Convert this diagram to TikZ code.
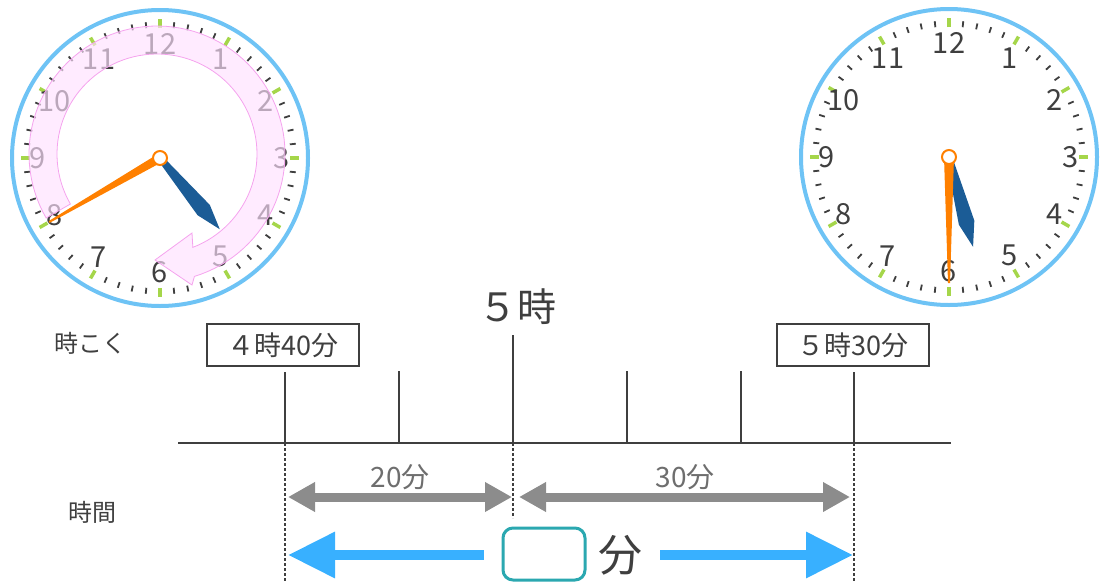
\documentclass[tikz,border=0pt]{standalone}
\usepackage{fontspec}
\setmainfont{Noto Sans CJK JP}
\usetikzlibrary{arrows.meta,calc,positioning}

\definecolor{ringblue}{HTML}{6EC3F5}
\definecolor{tickgreen}{HTML}{A5D64A}
\definecolor{ink}{HTML}{3F3F3F}
\definecolor{hourblue}{HTML}{1B5C96}
\definecolor{handorange}{HTML}{FF8000}
\definecolor{bandpink}{HTML}{FFE0FF}
\definecolor{bandedge}{HTML}{F5A3EE}
\definecolor{dimgray}{HTML}{8C8C8C}
\definecolor{labelgray}{HTML}{6E6E6E}
\definecolor{arrowblue}{HTML}{38B0FF}
\definecolor{answerteal}{HTML}{2BA8B0}

\begin{document}
\begin{tikzpicture}[
    x=1pt, y=-1pt,
    ring/.style={draw=ringblue, line width=4pt},
    hourtick/.style={draw=tickgreen, line width=3.5pt},
    mintick/.style={draw=ink, line width=1.8pt},
    clocknum/.style={text=ink, inner sep=0pt, font=\fontsize{29}{29}\selectfont},
    pinkband/.style={fill=bandpink, fill opacity=0.65, draw=bandedge, line width=0.8pt},
    hourhand/.style={fill=hourblue},
    minhand/.style={fill=handorange},
    pivot/.style={circle, minimum size=14pt, inner sep=0pt, draw=handorange, line width=2pt, fill=white},
    axis/.style={draw=ink, line width=2.8pt},
    guide/.style={draw=ink, line width=2.5pt, dash pattern=on 2.5pt off 2.5pt},
    timebox/.style={rectangle, draw=ink, line width=2pt, minimum width=152pt, minimum height=42pt, text=ink, font=\fontsize{27}{27}\selectfont},
    hourlabel/.style={text=ink, font=\fontsize{39}{39}\selectfont},
    rowlabel/.style={text=ink, font=\fontsize{24}{24}\selectfont},
    dimlabel/.style={text=labelgray, font=\fontsize{28}{28}\selectfont},
    dimarrow/.style={draw=dimgray, line width=9pt, {Triangle[length=27pt,width=28pt]}-{Triangle[length=27pt,width=28pt]}},
    bluearrow/.style={draw=arrowblue, line width=9.5pt, -{Triangle[length=47pt,width=44pt]}},
    answerbox/.style={rectangle, rounded corners=10pt, draw=answerteal, line width=3pt, minimum width=82pt, minimum height=52pt},
    bigfun/.style={text=ink, inner sep=0pt, font=\fontsize{44}{44}\selectfont}
]
\useasboundingbox (0,0) rectangle (1100,581);

% Clock faces
\coordinate (lc) at (160,158);
\coordinate (rc) at (949,157);
\foreach \c in {lc,rc} {
  \draw[ring] (\c) circle[radius=148pt];
  \foreach \m in {0,...,59} {
    \pgfmathtruncatemacro\five{mod(\m,5)}
    \ifnum\five=0
      \draw[hourtick] ($(\c)+(-90+6*\m:130)$) -- ($(\c)+(-90+6*\m:139)$);
    \else
      \draw[mintick] ($(\c)+(-90+6*\m:130.5)$) -- ($(\c)+(-90+6*\m:136.5)$);
    \fi
  }
  \foreach \h in {1,...,12}
    \node[clocknum] (\c-\h) at ($(\c)+({122*cos(-90+30*\h)},{114*sin(-90+30*\h)})$) {\h};
}

% Elapsed time band on the left clock
\draw[pinkband]
  plot[domain=150:433, samples=90, variable=\t] ({157+128*cos(\t)},{154+128*sin(\t)})
  -- (192,285) -- (155,260) -- (192,233)
  -- plot[domain=429:150, samples=90, variable=\t] ({157+100*cos(\t)},{154+100*sin(\t)})
  -- cycle;

% Hands
\fill[hourhand, shift={(lc)}, rotate=-50] (0,-3) -- (68,-8) -- (93,0) -- (68,8) -- (0,3) -- cycle;
\fill[minhand, shift={(lc)}, rotate=-150] (0,-4.5) -- (128,-1) -- (128,1) -- (0,4.5) -- cycle;
\node[pivot] (lpiv) at (lc) {};

\fill[hourhand, shift={(rc)}, rotate=-75] (0,-3) -- (68,-8) -- (93,0) -- (68,8) -- (0,3) -- cycle;
\fill[minhand, shift={(rc)}, rotate=-90] (0,-5) -- (126,-1) -- (126,1) -- (0,5) -- cycle;
\node[pivot] (rpiv) at (rc) {};

% Time line
\coordinate (axl) at (178,443);
\coordinate (axr) at (951,443);
\coordinate (tt) at (0,371);
\coordinate (fivetop) at (513,335);
\coordinate (bot) at (0,581);
\coordinate (midend) at (0,518);
\coordinate (dim) at (0,497);
\coordinate (blu) at (0,555);
\foreach \n/\x in {t40/285, t50/399, t0/513, t10/627, t20/741, t30/854}
  \coordinate (\n) at (\x,443);

\node[rowlabel] (jikoku) at (90,343) {時こく};
\node[rowlabel] (jikan) at (92,512) {時間};

\node[timebox] (start) at (283,345) {４時40分};
\node[timebox] (finish) at (853,345) {５時30分};
\node[hourlabel] (five) at (517,307) {５時};

\draw[axis] (axl) -- (axr);
\draw[axis, shorten >=5pt] (t40) -- (t40 |- start.south);
\draw[axis, shorten >=5pt] (t30) -- (t30 |- finish.south);
\draw[axis] (t0) -- (fivetop);
\foreach \n in {t50,t10,t20}
  \draw[axis] (\n) -- (\n |- tt);

% Dotted guides
\draw[guide] (t40) -- (t40 |- bot);
\draw[guide] (t0) -- (t0 |- midend);
\draw[guide] (t30) -- (t30 |- bot);

% Elapsed parts
\draw[dimarrow, shorten <=3pt, shorten >=1pt] (t40 |- dim) -- (t0 |- dim);
\draw[dimarrow, shorten <=6pt, shorten >=4pt] (t0 |- dim) -- (t30 |- dim);
\node[dimlabel] (m20) at (400,477) {20分};
\node[dimlabel] (m30) at (685,477) {30分};

% Answer
\node[answerbox] (ans) at (544,554) {};
\node[bigfun] (fun) at (620,555) {分};
\draw[bluearrow, shorten <=18pt, shorten >=3pt] (ans.west |- blu) -- (t40 |- blu);
\draw[bluearrow, shorten <=18pt, shorten >=1pt] (fun.east) -- (t30 |- blu);

\end{tikzpicture}
\end{document}
